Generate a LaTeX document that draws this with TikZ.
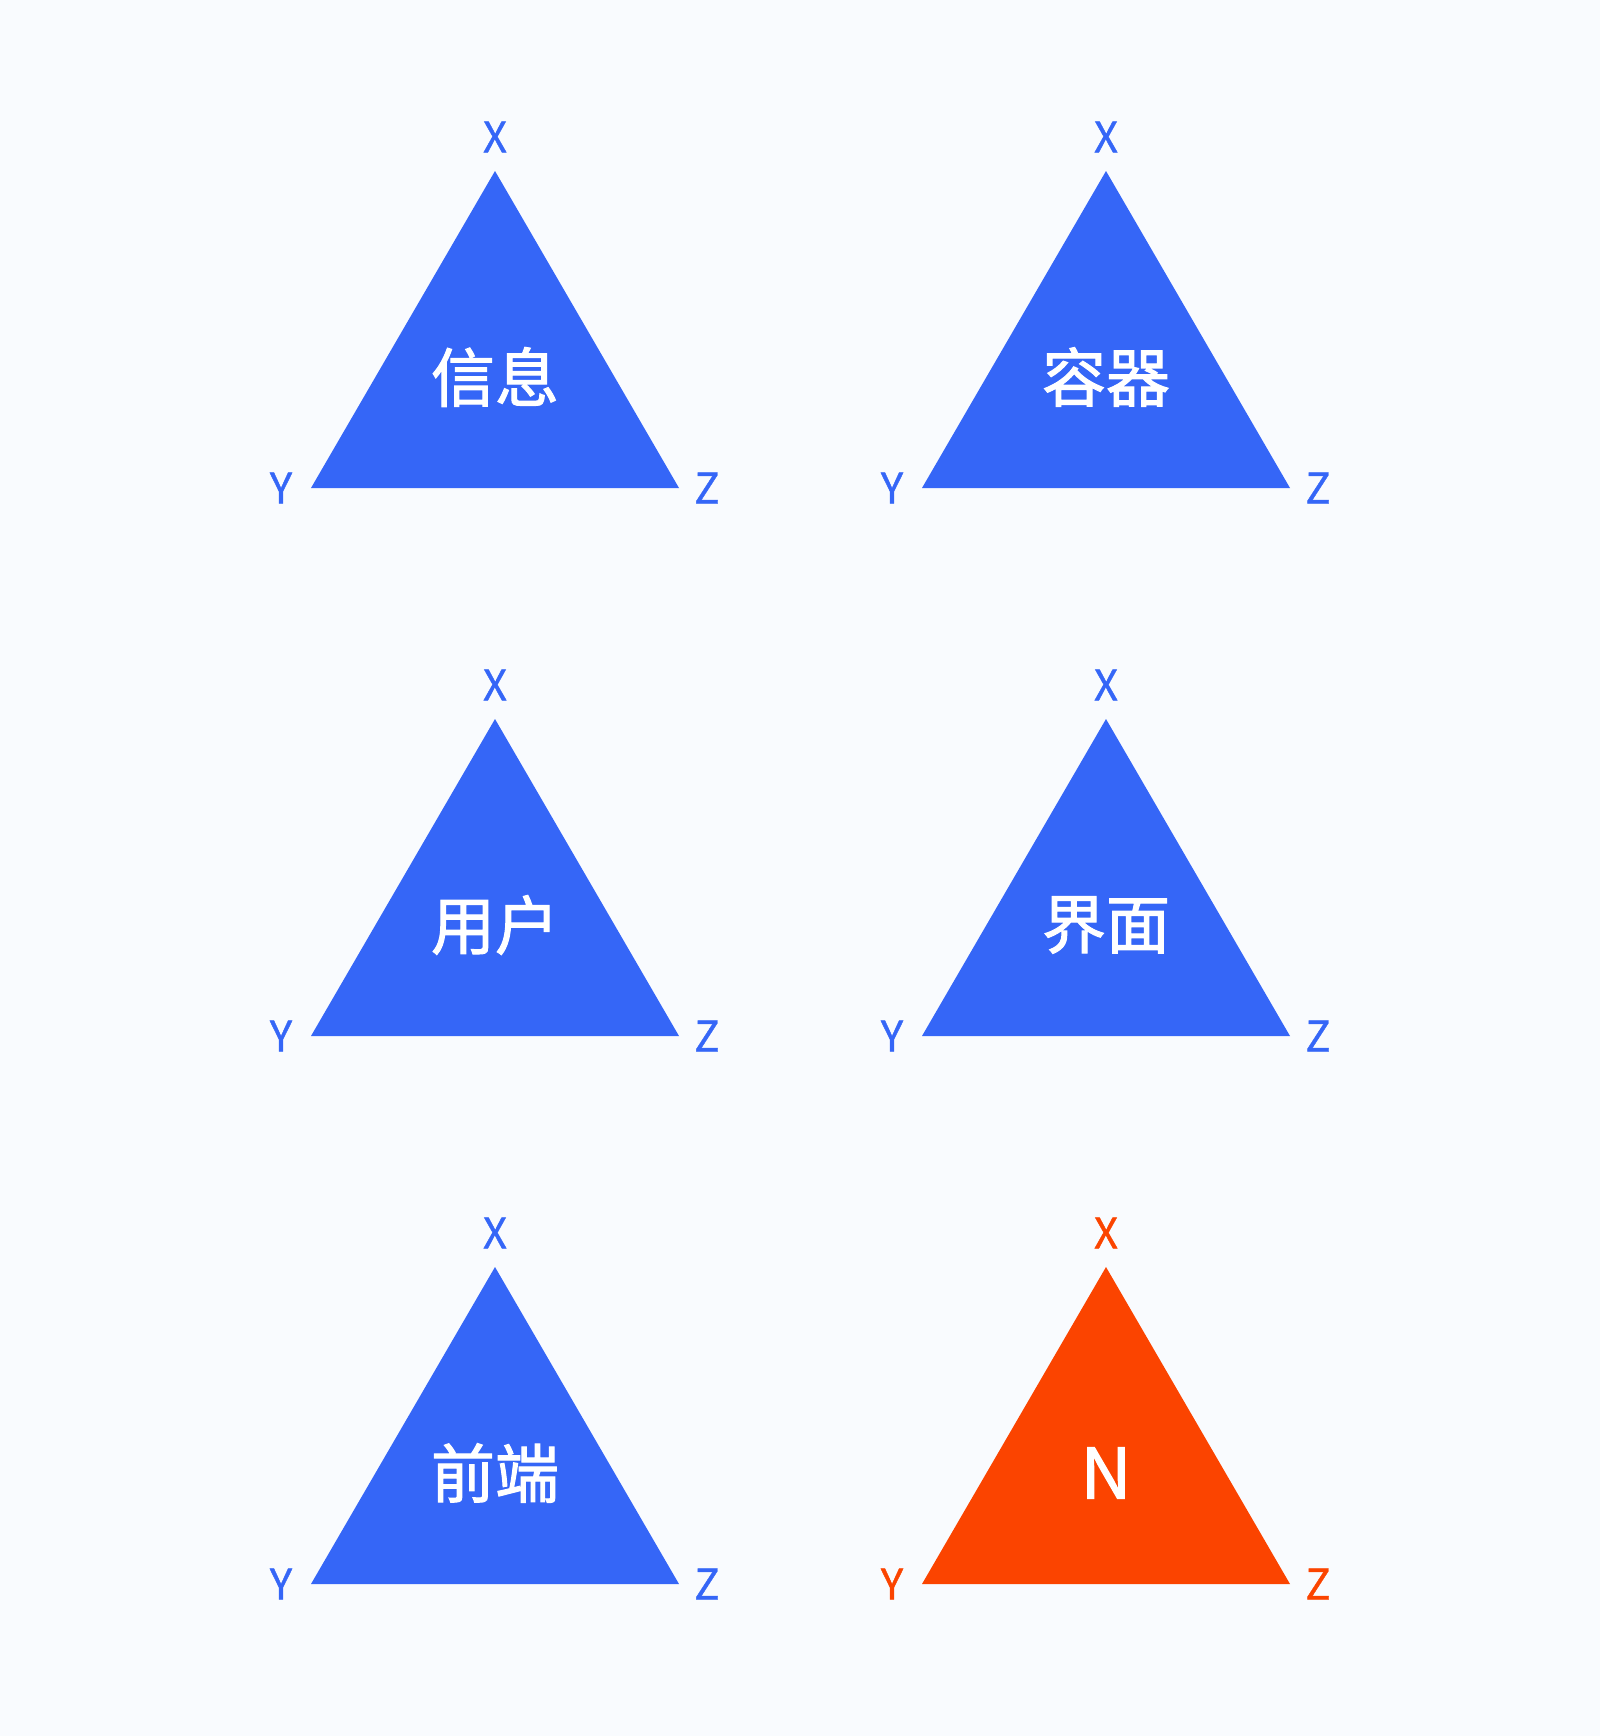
\documentclass[tikz,border=0pt]{standalone}
\usepackage{fontspec}
\setmainfont{Noto Sans CJK SC}
\newfontfamily\cjkmed{Noto Sans CJK SC}[FakeBold=1.6]
\newfontfamily\latmed{Noto Sans CJK SC}[FakeBold=0.9]
\definecolor{bg}{HTML}{F9FBFE}
\definecolor{tblue}{HTML}{3566F7}
\definecolor{tred}{HTML}{FB4400}
\tikzset{
  corner/.style={inner sep=0pt, font=\latmed\fontsize{21}{21}\selectfont},
  title/.style={inner sep=0pt, text=white, font=\cjkmed\fontsize{32}{32}\selectfont},
}
\newcommand\mytri[5]{%
  % #1 name, #2 center x, #3 apex y, #4 colour, #5 text
  \coordinate (#1a) at (#2,#3);
  \coordinate (#1l) at ({#2-184},{#3+317});
  \coordinate (#1r) at ({#2+184},{#3+317});
  \fill[#4] (#1a) -- (#1l) -- (#1r) -- cycle;
  \node[title] (#1t) at (#2,{#3+206}) {#5};
  \node[corner, text=#4] (#1x) at (#2,{#3-34}) {X};
  \node[corner, text=#4] (#1y) at ({#2-214},{#3+317}) {Y};
  \node[corner, text=#4] (#1z) at ({#2+212},{#3+317}) {Z};
}
\begin{document}
\begin{tikzpicture}[x=0.5pt,y=-0.5pt]
\fill[bg] (0,0) rectangle (1600,1736);
\useasboundingbox (0,0) rectangle (1600,1736);
\mytri{A}{495}{171}{tblue}{信息}
\mytri{B}{1106}{171}{tblue}{容器}
\mytri{C}{495}{719}{tblue}{用户}
\mytri{D}{1106}{719}{tblue}{界面}
\mytri{E}{495}{1267}{tblue}{前端}
\mytri{F}{1106}{1267}{tred}{\fontsize{35}{35}\selectfont N}
\end{tikzpicture}
\end{document}
